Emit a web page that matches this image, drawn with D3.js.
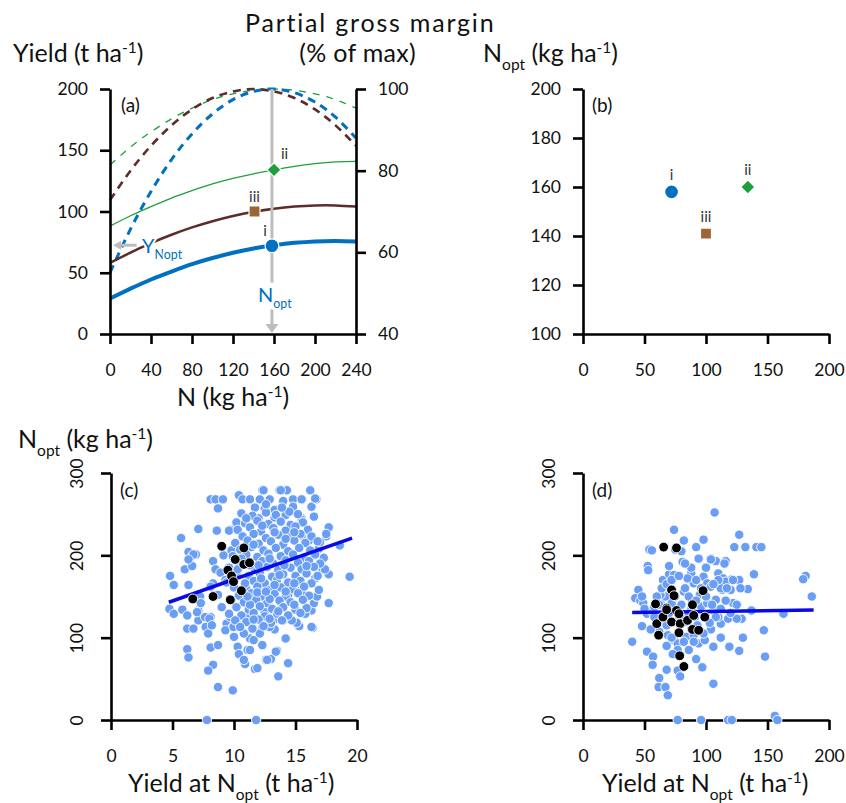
<!DOCTYPE html>
<html>
<head>
<meta charset="utf-8">
<script src="https://cdn.jsdelivr.net/npm/d3@7"></script>
<style>
  body { margin: 0; background: #fff; }
  svg text { font-family: Lato, 'Open Sans', sans-serif; fill: #111; }
</style>
</head>
<body>
<svg id="chart" width="846" height="803"></svg>
<script>
// ---- panel (a): response curves ----
const nRates = [0, 20, 40, 60, 80, 100, 120, 140, 160, 180, 200, 220, 240];
const yieldI = [29, 37, 44.5, 51, 57, 62, 66.3, 69.8, 72.4, 74.4, 75.6, 76, 75.6];
const yieldII = [88, 96.5, 104, 111, 117, 122.5, 127, 130.8, 134, 136.8, 139, 140.5, 141];
const yieldIII = [58, 66.5, 74.2, 81, 87, 92.1, 96.4, 99.8, 102.3, 104, 104.9, 104.9, 104];
const marginI = [55, 65.7, 74.9, 82.7, 89, 93.9, 97.4, 99.4, 100, 99.1, 96.8, 93.1, 88];
const marginII = [81.4, 85.8, 89.5, 92.7, 95.3, 97.4, 98.8, 99.7, 100, 99.7, 98.8, 97.4, 95.3];
const marginIII = [72.8, 80, 86.1, 91.1, 95, 97.8, 99.4, 100, 99.4, 97.8, 95, 91.1, 86.1];

// optimum points, shared by (a) and (b)
const caseLabels = ['i', 'ii', 'iii'];
const nOpt = [158, 160, 141];
const yieldAtNopt = [72, 134, 100];

// ---- panels (c) and (d): fields ----
const cAll = [
  [4.8,175],[5.1,164],[5.7,221],[4.75,135],[5.1,129],[5.8,134],[6.0,183],[6.3,204],[6.6,199],[6.6,187],
  [6.9,201],[6.3,164],[7.1,232],[6.2,127],[6.2,111],[6.7,111],[7.1,133],[7.2,146],[7.1,121],[6.2,86],
  [6.3,76],[7.7,113],[8.1,125],[7.9,105],[8.1,88],[8.3,67],[7.9,60],[8.7,40],[9.9,36],[8.7,91],
  [7.8,0],[11.8,0],[8.1,268],[8.5,268],[9.1,268],[8.7,257],[8.6,230],[9.7,231],[10.2,240],[8.3,193],
  [8.5,183],[8.9,179],[8.3,166],[8.7,152],[9.0,137],[9.4,117],[9.9,113],[10.0,101],[10.3,89],[10.4,80],
  [10.9,68],[11.1,85],[11.3,99],[11.7,62],[12.6,73],[13.0,74],[12.3,90],[12.1,106],[13.3,110],[13.5,84],
  [13.6,53],[14.2,99],[14.4,69],[15.1,119],[15.3,114],[16.4,112],[16.3,133],[16.5,142],[16.7,150],[17.7,142],
  [17.2,183],[17.7,177],[17.5,223],[17.7,234],[16.9,208],[18.6,212],[19.4,174],[16.2,279],[16.3,259],[16.5,247],
  [16.7,268],[13.7,279],[14.2,279],[12.3,279],[10.4,273],[10.7,268],[11.3,268],[12.1,268],[12.9,268],[14.0,266],
  [14.8,268],[15.5,268],[11.0,246],[11.7,258],[12.5,257],[13.3,255],[14.8,259],[15.5,245],[12.0,245],[13.3,246],
  [14.2,249],[9.6,230],[6.7,201],[6.3,195],[9.15,200],[9.8,206],[9.3,170],[8.1,162],[7.25,150],[7.3,142],
  [7.0,131],[7.65,125],[8.0,123],[8.2,115],[9.7,125],[9.3,109],[10.2,121],[11.05,125],[9.96,113],[10.8,105],
  [11.6,97],[10.8,73],[11.3,85],[17.5,226],[17.0,216],[17.3,197],[17.4,183],[16.6,172],[16.75,150],[15.8,129],
  [16.3,113],[15.1,118],[13.4,83],[12.7,73],[11.9,63],[16.1,218],[16.6,269],[14.3,279],[13.8,279],[12.4,279],
  [15.5,243],[15.5,224],[15.0,231],[16.5,200],[15.8,190],[16.9,158],[15.5,154],[15.9,136],[15.0,158],[14.4,152],
  [13.9,162],[13.4,170],[12.8,142],[13.9,137],[14.7,121],[14.0,121],[13.2,121],[12.5,131],[12.3,113],[12.9,113],
  [12.1,105],[12.3,91],
  [10.6,251],[11.5,248],[12.6,252],[13.4,249],[14.5,253],[15.2,250],
  [10.9,239],[11.9,242],[12.8,238],[13.8,241],[14.6,237],[15.6,240],
  [10.3,231],[11.3,234],[12.2,229],[13.2,233],[14.2,230],[15.0,235],[16.0,231],
  [10.7,223],[11.6,226],[12.6,221],[13.6,225],[14.6,222],[15.4,226],[16.3,223],
  [10.1,215],[11.1,218],[12.0,214],[13.0,217],[14.0,213],[14.9,218],[15.8,215],[16.8,217],
  [10.5,207],[11.4,210],[12.4,206],[13.4,209],[14.4,205],[15.3,209],[16.2,206],
  [9.9,199],[11.0,201],[11.9,198],[12.8,202],[13.8,199],[14.8,201],[15.7,197],[16.6,201],
  [10.4,191],[12.3,193],[13.2,190],[14.2,194],[15.2,191],[16.1,193],[17.0,190],
  [9.6,185],[11.7,183],[12.7,186],[13.6,182],[14.6,185],[15.5,183],[16.5,186],
  [10.2,177],[11.2,175],[12.1,178],[13.1,174],[14.0,177],[15.0,175],[15.9,178],[16.8,175],
  [9.4,167],[11.6,169],[12.5,166],[13.5,170],[14.4,167],[15.4,169],[16.3,166],
  [10.0,161],[11.0,159],[11.9,162],[12.9,158],[13.8,161],[14.8,159],[15.7,162],
  [10.4,151],[11.4,154],[12.3,150],[13.3,153],[14.2,150],[15.2,154],[16.1,151],
  [9.8,145],[10.8,143],[11.8,146],[12.7,142],[13.7,145],[14.6,143],[15.6,146],
  [10.2,137],[11.2,134],[12.1,138],[13.1,135],[14.0,137],[15.0,134],
  [9.6,129],[10.6,127],[11.6,130],[12.5,126],[13.5,129],[14.4,127],[15.4,130],
  [10.1,121],[11.0,119],[12.0,122],[13.0,118],[13.9,121],
  [10.5,113],[11.5,111],[12.4,114],
  [11.0,245],[12.3,236],[13.3,228],[14.2,220],[11.6,213],[12.9,196],[14.1,188],[11.3,188],[12.2,172],[13.3,164],
  [11.9,155],[14.2,156],[12.9,147],[11.3,140],[13.6,132],[12.9,123],[11.1,150],[10.6,196],[10.3,183],[10.9,166],
  [15.9,187],[14.9,228],[12.6,262],[13.9,258],[12.0,188],[13.7,176],[14.9,166],[12.6,156],[11.6,122],[14.9,140]
];
const cSelected = [
  [6.65,147],[8.3,150],[9.0,211],[9.7,146],[9.5,182],[9.8,175],[10.1,195],[9.96,168],
  [10.6,157],[10.8,209],[10.8,189],[11.26,191]
];
const cTrend = [[4.7, 143], [19.6, 221]];

const dAll = [
  [40,95],[45,158],[42.5,148],[46.6,145],[49,142],[48,114],[52,83],[52.6,187],[53,182],[54,207],
  [56,206],[57,77],[56.6,67],[62,51],[61.5,40],[67,40],[69,30],[68,61],[68,90],[65,170],
  [70,177],[74,231],[75,207],[82,218],[81,192],[74,176],[82,156],[88,178],[92,210],[98,219],
  [94,196],[98,174],[101,166],[104,196],[107,252],[108,193],[110,178],[116,193],[114,172],[121,171],
  [123,210],[127,225],[127,170],[132,210],[134,159],[139,177],[141,210],[145,210],[137,133],[129,123],
  [130,100],[127,84],[119,89],[112,100],[106,89],[106,44],[97,64],[92,74],[147,109],[148,77],
  [163,129],[181,175],[179,171],[186,150],[156,5],[158,0],[77,0],[96,0],[118,0],[121,0],
  [77,60],[79,53],[52,129],[55,133],[58,137],[63,142],[58,112],[62,107],[69,103],[74,97],
  [77,93],[84,101],[90,103],[88,111],[94,93],[99,97],[104,110],[112,117],[118,123],[125,123],
  [113,158],[116,168],[108,146],[104,162],[95,152],[90,166],[85,172],[79,138],[72,142],[67,150],
  [70,187],[63,152],[96,138],[101,142],[106,133],[88,134],[91,125],[83,119],[79,125],[100,125],
  [122,142],[120,158],[110,125],
  [60,150],[64,160],[68,165],[72,170],[78,175],[83,160],[86,150],[92,145],[96,160],[100,150],
  [105,140],[108,125],[112,135],[116,145],[120,130],[125,140],[128,160],[103,118],[98,105],[93,115],
  [86,128],[80,140],[75,150],[70,130],[66,120],[62,140],[58,125],[55,110],[50,135],[48,150],
  [112,160],[117,160],[122,170],[110,170],[106,165],[100,185],[92,170],[88,185],[83,190],[80,205],
  [104,195],[115,190],[68,115],[72,100],[82,95],[86,85],[90,95],[77,85],[73,80]
];
const dSelected = [
  [65.6,210],[76,209],[72,158],[74,151],[97.6,157],[59,141],[68,136],[76,133],[89,140],[60,117],
  [61.5,103],[65,125],[72,119],[79,117],[85,121],[90,127],[99,125],[89,110],[94,109],[78,106],
  [78.6,78],[82,65],[68,134],[78,129]
];
const dTrend = [[40, 130.7], [187.5, 133.5]];

// ---- styling ----
const BLUE = '#0070c0', GREEN = '#1f9e3d', BROWN = '#5b2c29', BROWN_MARK = '#9c6634';
const DOT = '#6a9ef5', TREND = '#0a0ae6', GREY = '#bdbdbd';
const TITLE = 25;

const svg = d3.select('#chart');

// scales
const xA = d3.scaleLinear().domain([0, 240]).range([110, 356]);
const yA = d3.scaleLinear().domain([0, 200]).range([334, 89]);
const yAR = d3.scaleLinear().domain([40, 100]).range([334, 89]);
const xB = d3.scaleLinear().domain([0, 200]).range([583, 829]);
const yB = d3.scaleLinear().domain([100, 200]).range([334, 89]);
const xC = d3.scaleLinear().domain([0, 20]).range([111, 357]);
const yC = d3.scaleLinear().domain([0, 300]).range([720, 473]);
const xD = d3.scaleLinear().domain([0, 200]).range([583, 829]);
const yD = d3.scaleLinear().domain([0, 300]).range([720, 473]);

function styleAxis(g) {
  g.select('.domain').attr('stroke', '#000').attr('stroke-width', 2.6);
  g.selectAll('.tick line').attr('stroke', '#000').attr('stroke-width', 2.6);
  g.selectAll('.tick text').attr('font-size', 17.5).attr('fill', '#111')
    .style('font-family', "Lato, 'Open Sans', sans-serif");
}

function rich(sel, x, y, parts, size, anchor, color) {
  const t = sel.append('text').attr('x', x).attr('y', y)
    .attr('font-size', size).attr('text-anchor', anchor || 'start');
  if (color) t.attr('fill', color).style('fill', color);
  let shift = 0;
  parts.forEach(p => {
    const target = p.sup ? -0.36 * size : p.sub ? 0.3 * size : 0;
    t.append('tspan').attr('dy', target - shift)
      .attr('font-size', (p.sup || p.sub) ? size * 0.62 : size)
      .text(p.t);
    shift = target;
  });
  return t;
}

function arrow(g, x1, y1, x2, y2, head, width) {
  const dx = x2 - x1, dy = y2 - y1, len = Math.hypot(dx, dy);
  const ux = dx / len, uy = dy / len;
  const bx = x2 - ux * head, by = y2 - uy * head;
  g.append('line').attr('x1', x1).attr('y1', y1).attr('x2', bx).attr('y2', by)
    .attr('stroke', GREY).attr('stroke-width', 3);
  g.append('path')
    .attr('d', `M${x2},${y2}L${bx - uy * width / 2},${by + ux * width / 2}L${bx + uy * width / 2},${by - ux * width / 2}Z`)
    .attr('fill', GREY);
}

const symbols = {
  circle: d3.symbol().type(d3.symbolCircle).size(150),
  diamond: d3.symbol().type(d3.symbolSquare).size(100),
  square: d3.symbol().type(d3.symbolSquare).size(121)
};
const caseStyle = [
  { shape: 'circle', color: BLUE, rot: 0 },
  { shape: 'diamond', color: GREEN, rot: 45 },
  { shape: 'square', color: BROWN_MARK, rot: 0 }
];

// ================= panel (a) =================
const gA = svg.append('g');
const line = (ys, yScale) => d3.line()
  .x((d, i) => xA(nRates[i]))
  .y(d => yScale(d))
  .curve(d3.curveNatural)(ys);

// partial gross margin (dashed, right axis)
[[marginII, GREEN, 1.3, '7,7'], [marginIII, BROWN, 2.6, '8,6'], [marginI, BLUE, 3, '8,6']]
  .forEach(([ys, c, w, dash]) => {
    gA.append('path').attr('d', line(ys, yAR)).attr('fill', 'none')
      .attr('stroke', c).attr('stroke-width', w).attr('stroke-dasharray', dash);
  });

// yield (solid, left axis)
[[yieldII, GREEN, 1.3], [yieldIII, BROWN, 2.5], [yieldI, BLUE, 4]]
  .forEach(([ys, c, w]) => {
    gA.append('path').attr('d', line(ys, yA)).attr('fill', 'none')
      .attr('stroke', c).attr('stroke-width', w);
  });

// N_opt guide and Y_Nopt arrow
gA.append('line').attr('x1', xA(nOpt[0])).attr('x2', xA(nOpt[0]))
  .attr('y1', yA(200)).attr('y2', yA(42)).attr('stroke', GREY).attr('stroke-width', 3);
arrow(gA, xA(nOpt[0]), yA(20), xA(nOpt[0]), yA(0) - 1, 9, 13);
arrow(gA, xA(26), yA(yieldAtNopt[0] + 0.5), xA(3), yA(yieldAtNopt[0] + 0.5), 8, 9);

rich(gA, 258, 302, [{ t: 'N' }, { t: 'opt', sub: true }], 20, 'start', BLUE);
rich(gA, 142, 253, [{ t: 'Y' }, { t: 'N', sub: true }, { t: 'opt', sub: true }], 20, 'start', BLUE)
  .attr('stroke', '#fff').attr('stroke-width', 4).attr('paint-order', 'stroke');

// markers
caseLabels.forEach((lab, i) => {
  const st = caseStyle[i];
  gA.append('path').attr('d', symbols[st.shape]())
    .attr('transform', `translate(${xA(nOpt[i])},${yA(yieldAtNopt[i])}) rotate(${st.rot})`)
    .attr('fill', st.color).attr('stroke', '#fff').attr('stroke-width', 1.2);
});
gA.append('text').attr('x', xA(nOpt[0]) - 5).attr('y', yA(yieldAtNopt[0]) - 10)
  .attr('text-anchor', 'end').attr('font-size', 15).style('fill', '#333').text(caseLabels[0]);
gA.append('text').attr('x', xA(nOpt[1]) + 7).attr('y', yA(yieldAtNopt[1]) - 11)
  .attr('font-size', 15).style('fill', '#333').text(caseLabels[1]);
gA.append('text').attr('x', xA(nOpt[2])).attr('y', yA(yieldAtNopt[2]) - 10)
  .attr('text-anchor', 'middle').attr('font-size', 15).style('fill', '#333').text(caseLabels[2]);

// axes
gA.append('g').attr('transform', 'translate(110,0)')
  .call(d3.axisLeft(yA).tickValues([0, 50, 100, 150, 200]).tickSize(10).tickPadding(12).tickSizeOuter(0))
  .call(styleAxis);
gA.append('g').attr('transform', 'translate(356,0)')
  .call(d3.axisRight(yAR).tickValues([40, 60, 80, 100]).tickSize(10).tickPadding(12).tickSizeOuter(0))
  .call(styleAxis);
gA.append('g').attr('transform', 'translate(0,334)')
  .call(d3.axisBottom(xA).tickValues(nRates.filter(n => n % 40 === 0)).tickSize(10).tickPadding(20).tickSizeOuter(0))
  .call(styleAxis);

gA.append('text').attr('x', 121).attr('y', 112).attr('font-size', 19).text('(a)');
gA.append('text').attr('x', 245).attr('y', 32).attr('font-size', TITLE)
  .attr('letter-spacing', 1.8).text('Partial gross margin');
gA.append('text').attr('x', 416).attr('y', 62).attr('font-size', TITLE).attr('text-anchor', 'end')
  .attr('letter-spacing', 0.3).text('(% of max)');
rich(gA, 13, 62, [{ t: 'Yield (t ha' }, { t: '-1', sup: true }, { t: ')' }], TITLE);
rich(gA, 177, 406, [{ t: 'N (kg ha' }, { t: '-1', sup: true }, { t: ')' }], TITLE);

// ================= panel (b) =================
const gB = svg.append('g');
gB.append('g').attr('transform', 'translate(583,0)')
  .call(d3.axisLeft(yB).tickValues([100, 120, 140, 160, 180, 200]).tickSize(10).tickPadding(12).tickSizeOuter(0))
  .call(styleAxis);
gB.append('g').attr('transform', 'translate(0,334)')
  .call(d3.axisBottom(xB).tickValues([0, 50, 100, 150, 200]).tickSize(10).tickPadding(20).tickSizeOuter(0))
  .call(styleAxis);
caseLabels.forEach((lab, i) => {
  const st = caseStyle[i];
  gB.append('path').attr('d', symbols[st.shape]())
    .attr('transform', `translate(${xB(yieldAtNopt[i])},${yB(nOpt[i])}) rotate(${st.rot})`)
    .attr('fill', st.color).attr('stroke', '#fff').attr('stroke-width', 1.2);
  gB.append('text').attr('x', xB(yieldAtNopt[i])).attr('y', yB(nOpt[i]) - 12)
    .attr('text-anchor', 'middle').attr('font-size', 15).style('fill', '#333').text(lab);
});
gB.append('text').attr('x', 592).attr('y', 112).attr('font-size', 19).text('(b)');
rich(gB, 483, 62, [{ t: 'N' }, { t: 'opt', sub: true }, { t: ' (kg ha' }, { t: '-1', sup: true }, { t: ')' }], TITLE);

// ================= panels (c) and (d) =================
function scatterPanel(x, y, all, selected, trend, xTicks, left, tag) {
  const g = svg.append('g');
  g.append('g').attr('transform', `translate(${left},0)`)
    .call(d3.axisLeft(y).tickValues([0, 100, 200, 300]).tickSize(10).tickSizeOuter(0))
    .call(styleAxis)
    .call(a => a.selectAll('.tick text')
      .attr('transform', 'rotate(-90)').attr('x', 0).attr('y', -28).attr('dy', 0)
      .attr('text-anchor', 'middle'));
  g.append('g').attr('transform', 'translate(0,720)')
    .call(d3.axisBottom(x).tickValues(xTicks).tickSize(10).tickPadding(20).tickSizeOuter(0))
    .call(styleAxis);

  g.append('g').selectAll('circle').data(all).join('circle')
    .attr('cx', d => x(d[0])).attr('cy', d => y(d[1])).attr('r', 4.7)
    .attr('fill', DOT).attr('stroke', '#fff').attr('stroke-width', 0.9);
  g.append('line')
    .attr('x1', x(trend[0][0])).attr('y1', y(trend[0][1]))
    .attr('x2', x(trend[1][0])).attr('y2', y(trend[1][1]))
    .attr('stroke', TREND).attr('stroke-width', 3.5);
  g.append('g').selectAll('circle').data(selected).join('circle')
    .attr('cx', d => x(d[0])).attr('cy', d => y(d[1])).attr('r', 4.9)
    .attr('fill', '#000').attr('stroke', '#fff').attr('stroke-width', 0.9);

  g.append('text').attr('x', left + 9).attr('y', 497).attr('font-size', 19).text(tag);
  rich(g, left + (tag === '(c)' ? 17 : 19), 792,
    [{ t: 'Yield at N' }, { t: 'opt', sub: true }, { t: ' (t ha' }, { t: '-1', sup: true }, { t: ')' }], TITLE);
  return g;
}

scatterPanel(xC, yC, cAll, cSelected, cTrend, [0, 5, 10, 15, 20], 111, '(c)');
scatterPanel(xD, yD, dAll, dSelected, dTrend, [0, 50, 100, 150, 200], 583, '(d)');

rich(svg, 18, 448, [{ t: 'N' }, { t: 'opt', sub: true }, { t: ' (kg ha' }, { t: '-1', sup: true }, { t: ')' }], TITLE);
</script>
</body>
</html>
